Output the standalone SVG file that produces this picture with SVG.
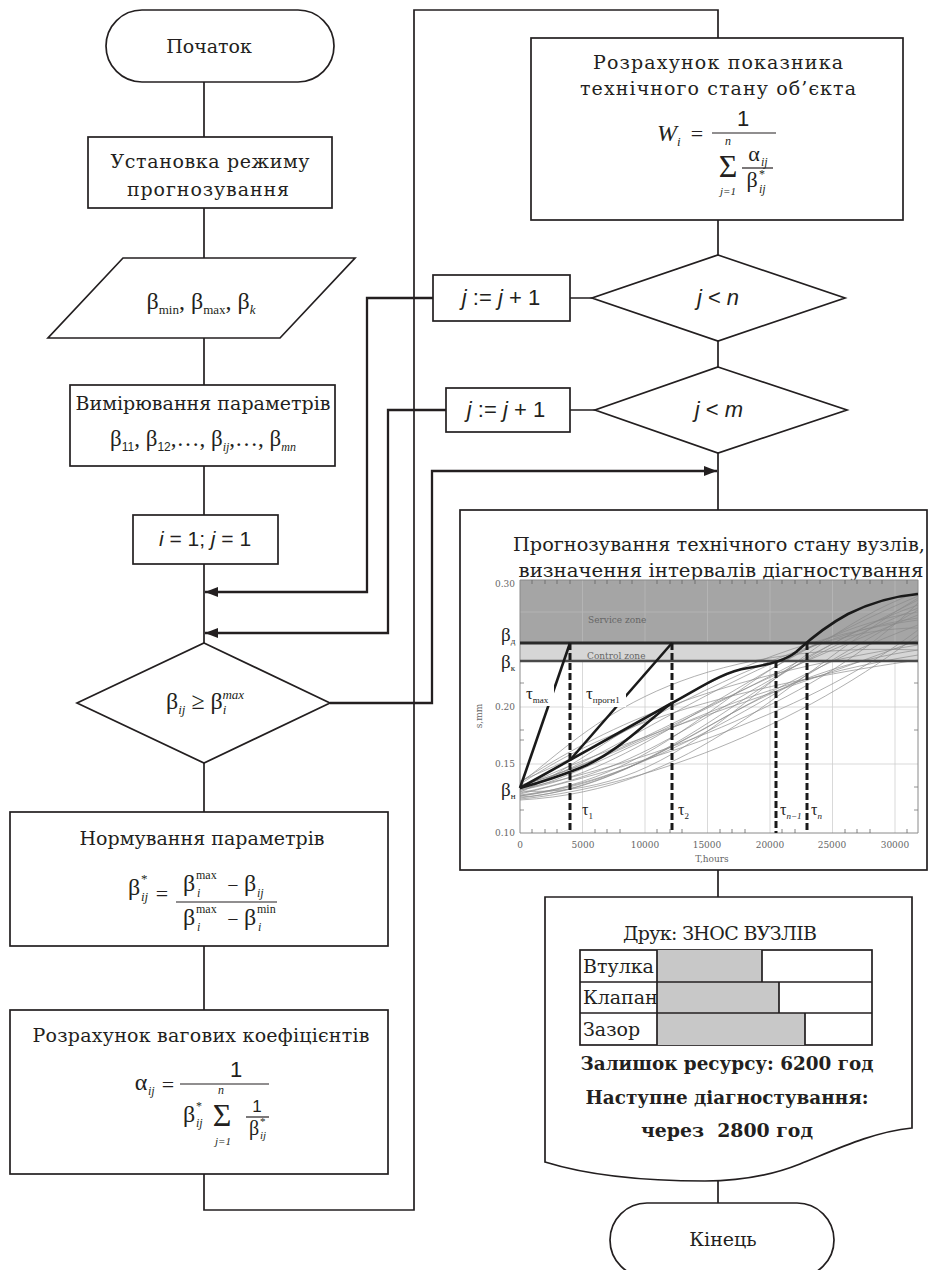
<svg xmlns="http://www.w3.org/2000/svg" width="928" height="1270" viewBox="0 0 928 1270">
<defs>
<style>
.n{fill:#fff;stroke:#231f20;stroke-width:1.7}
.c{fill:none;stroke:#231f20;stroke-width:1.7}
.a{fill:none;stroke:#231f20;stroke-width:2.3}
.f{stroke:#231f20;stroke-width:1.2}
.t{font-family:"DejaVu Serif",serif;font-size:19px;fill:#231f20;text-anchor:middle}
.m{font-family:"Liberation Serif","DejaVu Serif",serif;fill:#231f20}
.s{font-family:"Liberation Sans","DejaVu Sans",sans-serif;fill:#231f20}
.i{font-style:italic}
.mid{text-anchor:middle}
.b{font-family:"DejaVu Serif",serif;font-weight:bold;font-size:18px;fill:#231f20;text-anchor:middle}
.g{fill:none;stroke:#8a8a8a;stroke-width:0.8;opacity:0.85}
.grid{stroke:#cfcfcf;stroke-width:0.8}
.lab{font-family:"DejaVu Serif",serif;font-size:9px;fill:#666}
.k{fill:none;stroke:#1a1a1a;stroke-width:2.6}
.d{fill:none;stroke:#1a1a1a;stroke-width:3;stroke-dasharray:7 3}
.pl{font-family:"Liberation Serif","DejaVu Serif",serif;fill:#222}
</style>
<marker id="ar" markerUnits="userSpaceOnUse" markerWidth="13" markerHeight="10" refX="13" refY="5" orient="auto">
<path d="M0,0 L13,5 L0,10 Z" fill="#231f20"/>
</marker>
</defs>
<rect width="928" height="1270" fill="#fff"/>

<g id="connectors">
<path class="c" d="M204,82 V137 M204,208 V258 M204,338 V385 M204,466 V515 M204,564 V643 M204,763 V812 M204,946 V1010"/>
<path class="c" d="M204,1174 V1210 H414 V10 H718 V38"/>
<path class="c" d="M718,220 V255 M718,341 V367 M718,453 V510 M718,870 V897 M718,1181 V1203"/>
<path class="c" d="M592,298 H570 M595,410 H570"/>
<path class="a" d="M433,298 H367 V592 H205" marker-end="url(#ar)"/>
<path class="a" d="M446,410 H388 V633 H205" marker-end="url(#ar)"/>
<path class="a" d="M330,703 H432 V471 H717" marker-end="url(#ar)"/>
</g>

<g id="start">
<rect class="n" x="106" y="10" width="228" height="72" rx="36" ry="36"/>
<text class="t" x="209" y="53">Початок</text>
</g>

<g id="mode">
<rect class="n" x="88" y="137" width="244" height="71"/>
<text class="t" x="210" y="168" textLength="199">Установка режиму</text>
<text class="t" x="208" y="196" textLength="162">прогнозування</text>
</g>

<g id="input">
<polygon class="n" points="123,258 355,258 280,338 48,338"/>
<text class="m mid" x="201" y="309" font-size="24">β<tspan font-size="13" dy="5">min</tspan><tspan dy="-5">, β</tspan><tspan font-size="13" dy="5">max</tspan><tspan dy="-5">, β</tspan><tspan class="i" font-size="13" dy="5">k</tspan></text>
</g>

<g id="measure">
<rect class="n" x="70" y="385" width="265" height="81"/>
<text class="t" x="203" y="410" textLength="255">Вимірювання параметрів</text>
<text class="m mid" x="203" y="446" font-size="23">β<tspan class="s" font-size="12" dy="5">11</tspan><tspan dy="-5">, β</tspan><tspan class="s" font-size="12" dy="5">12</tspan><tspan dy="-5">,…, β</tspan><tspan class="i" font-size="12" dy="5">ij</tspan><tspan dy="-5">,…, β</tspan><tspan class="i" font-size="12" dy="5">mn</tspan></text>
</g>

<g id="init">
<rect class="n" x="133" y="515" width="145" height="49"/>
<text class="s mid" x="205" y="546" font-size="21"><tspan class="i">i</tspan> = 1; <tspan class="i">j</tspan> = 1</text>
</g>

<g id="check">
<polygon class="n" points="204,643 330,703 204,763 77,703"/>
<text class="m mid" x="205" y="709" font-size="24">β<tspan class="i" font-size="13" dy="5">ij</tspan><tspan dy="-5"> ≥ β</tspan><tspan class="i" font-size="13" dy="5">i</tspan><tspan class="i" font-size="13" dx="-4" dy="-15">max</tspan></text>
</g>

<g id="normalize">
<rect class="n" x="10" y="812" width="378" height="134"/>
<text class="t" x="202" y="845" textLength="245">Нормування параметрів</text>
<text class="m mid" x="134" y="895" font-size="24">β</text>
<text class="m" x="141" y="883" font-size="13">*</text>
<text class="m i" x="141" y="901" font-size="13">ij</text>
<text class="m mid" x="162" y="901" font-size="22">=</text>
<line class="f" x1="176" y1="902" x2="277" y2="902"/>
<text class="m mid" x="189" y="891" font-size="24">β</text>
<text class="m" x="196" y="879" font-size="12">max</text>
<text class="m i" x="197" y="897" font-size="12">i</text>
<text class="m mid" x="233" y="892" font-size="20">−</text>
<text class="m mid" x="250" y="891" font-size="24">β</text>
<text class="m i" x="257" y="897" font-size="12">ij</text>
<text class="m mid" x="189" y="925" font-size="24">β</text>
<text class="m" x="196" y="913" font-size="12">max</text>
<text class="m i" x="197" y="931" font-size="12">i</text>
<text class="m mid" x="233" y="926" font-size="20">−</text>
<text class="m mid" x="250" y="925" font-size="24">β</text>
<text class="m" x="257" y="913" font-size="12">min</text>
<text class="m i" x="258" y="931" font-size="12">i</text>
</g>

<g id="weights">
<rect class="n" x="10" y="1010" width="378" height="164"/>
<text class="t" x="201" y="1042" textLength="337">Розрахунок вагових коефіцієнтів</text>
<text class="m mid" x="141" y="1090" font-size="24">α</text>
<text class="m i" x="148" y="1095" font-size="12">ij</text>
<text class="m mid" x="168" y="1092" font-size="22">=</text>
<line class="f" x1="180" y1="1084" x2="269" y2="1084"/>
<text class="s mid" x="236" y="1077" font-size="22">1</text>
<text class="m mid" x="189" y="1122" font-size="24">β</text>
<text class="m" x="196" y="1110" font-size="12">*</text>
<text class="m i" x="196" y="1127" font-size="12">ij</text>
<text class="m i mid" x="221" y="1094" font-size="12">n</text>
<text class="m mid" x="222" y="1126" font-size="32">Σ</text>
<text class="m i mid" x="223" y="1145" font-size="11">j=1</text>
<text class="s mid" x="257" y="1112" font-size="17">1</text>
<line class="f" x1="246" y1="1117" x2="269" y2="1117"/>
<text class="m mid" x="254" y="1135" font-size="20">β</text>
<text class="m" x="260" y="1125" font-size="11">*</text>
<text class="m i" x="260" y="1139" font-size="11">ij</text>
</g>

<g id="index">
<rect class="n" x="531" y="38" width="372" height="182"/>
<text class="t" x="718" y="69" textLength="250">Розрахунок показника</text>
<text class="t" x="718" y="95" textLength="276">технічного стану об’єкта</text>
<text class="m i mid" x="667" y="141" font-size="24">W</text>
<text class="m i" x="677" y="146" font-size="13">i</text>
<text class="m mid" x="697" y="141" font-size="22">=</text>
<line class="f" x1="712" y1="133" x2="776" y2="133"/>
<text class="s mid" x="743" y="126" font-size="22">1</text>
<text class="m i mid" x="728" y="145" font-size="12">n</text>
<text class="m mid" x="728" y="177" font-size="32">Σ</text>
<text class="m i mid" x="728" y="195" font-size="11">j=1</text>
<text class="m mid" x="754" y="161" font-size="22">α</text>
<text class="m i" x="761" y="166" font-size="12">ij</text>
<line class="f" x1="742" y1="168" x2="773" y2="168"/>
<text class="m mid" x="752" y="187" font-size="22">β</text>
<text class="m" x="759" y="178" font-size="12">*</text>
<text class="m i" x="759" y="193" font-size="12">ij</text>
</g>

<g id="cond-n">
<polygon class="n" points="718,255 845,298 718,341 592,298"/>
<text class="s mid" x="718" y="305" font-size="22"><tspan class="i">j</tspan> &lt; <tspan class="i">n</tspan></text>
</g>

<g id="inc-n">
<rect class="n" x="433" y="275" width="137" height="46"/>
<text class="s mid" x="501" y="305" font-size="22"><tspan class="i">j</tspan> := <tspan class="i">j</tspan> + 1</text>
</g>

<g id="cond-m">
<polygon class="n" points="718,367 847,410 718,453 595,410"/>
<text class="s mid" x="719" y="417" font-size="22"><tspan class="i">j</tspan> &lt; <tspan class="i">m</tspan></text>
</g>

<g id="inc-m">
<rect class="n" x="446" y="388" width="124" height="44"/>
<text class="s mid" x="506" y="417" font-size="22"><tspan class="i">j</tspan> := <tspan class="i">j</tspan> + 1</text>
</g>

<g id="forecast">
<rect class="n" x="460" y="510" width="467" height="360"/>
<text class="t" x="719" y="551" textLength="412" lengthAdjust="spacingAndGlyphs">Прогнозування технічного стану вузлів,</text>
<text class="t" x="721" y="577" textLength="405" lengthAdjust="spacingAndGlyphs">визначення інтервалів діагностування</text>
<rect x="520" y="580" width="398" height="63" fill="#a5a5a5"/>
<rect x="520" y="643" width="398" height="18" fill="#d6d6d6"/>
<path d="M582.5,580 V643 M645,580 V643 M707.5,580 V643 M770,580 V643 M832.5,580 V643 M895,580 V643 M520,612 H918" stroke="#b8b8b8" stroke-width="0.8"/>
<path class="grid" d="M582.5,661 V833 M645,661 V833 M707.5,661 V833 M770,661 V833 M832.5,661 V833 M895,661 V833 M520,707 H918 M520,764 H918"/>
<path d="M520,580 H918 V833 M520,580 V833 H918" fill="none" stroke="#8a8a8a" stroke-width="1"/>
<path d="M520,683 H524 M520,730 H524 M520,740 H524 M520,787 H524 M520,810 H524 M914,683 H918 M914,730 H918 M914,787 H918 M914,810 H918" stroke="#777" stroke-width="0.8"/>
<path d="M532,580 V584 M545,580 V584 M557,580 V584 M570,580 V584 M595,580 V584 M607,580 V584 M620,580 V584 M632,580 V584 M657,580 V584 M670,580 V584 M682,580 V584 M695,580 V584 M720,580 V584 M732,580 V584 M745,580 V584 M757,580 V584 M782,580 V584 M795,580 V584 M807,580 V584 M820,580 V584 M845,580 V584 M857,580 V584 M870,580 V584 M882,580 V584 M907,580 V584 M532,829 V833 M545,829 V833 M557,829 V833 M595,829 V833 M607,829 V833 M620,829 V833 M657,829 V833 M670,829 V833 M682,829 V833 M720,829 V833 M732,829 V833 M745,829 V833 M782,829 V833 M795,829 V833 M845,829 V833 M857,829 V833 M870,829 V833 M907,829 V833" stroke="#666" stroke-width="0.8"/>
<g>
<path class="g" d="M520,785 C620,760 740,690 918,600"/>
<path class="g" d="M520,790 C640,770 720,680 918,596"/>
<path class="g" d="M520,795 C650,780 760,700 918,610"/>
<path class="g" d="M520,792 C600,760 700,650 918,620"/>
<path class="g" d="M520,788 C620,740 760,700 918,640"/>
<path class="g" d="M520,798 C680,780 760,660 918,605"/>
<path class="g" d="M520,783 C580,740 660,640 918,650"/>
<path class="g" d="M520,800 C700,790 780,680 918,598"/>
<path class="g" d="M520,786 C640,750 700,700 918,615"/>
<path class="g" d="M520,794 C620,770 800,720 918,630"/>
<path class="g" d="M520,790 C600,775 700,690 918,655"/>
<path class="g" d="M520,796 C700,770 740,640 918,612"/>
<path class="g" d="M520,782 C600,730 700,680 918,645"/>
<path class="g" d="M520,789 C660,760 820,700 918,603"/>
<path class="g" d="M520,797 C640,790 720,700 918,625"/>
<path class="g" d="M520,784 C560,760 640,700 918,660"/>
<path class="g" d="M520,791 C700,800 760,650 918,592"/>
<path class="g" d="M520,799 C620,790 780,740 918,635"/>
<path class="g" d="M520,787 C600,770 760,640 918,618"/>
<path class="g" d="M520,793 C680,760 700,700 918,608"/>
<path class="g" d="M520,781 C610,745 690,690 800,650 C850,633 890,628 918,628"/>
<path class="g" d="M520,796 C600,786 650,760 720,720 C790,680 850,660 918,650"/>
</g>
<line x1="520" y1="643" x2="918" y2="643" stroke="#2a2a2a" stroke-width="3"/>
<line x1="520" y1="661" x2="918" y2="661" stroke="#4a4a4a" stroke-width="2.4"/>
<path class="k" d="M520,788 L570,643"/>
<path class="k" d="M520,788 L672,703"/>
<path class="k" d="M570,760 L672,643"/>
<path class="k" d="M520,788 C550,780 565,774 580,768 C620,752 650,718 672,703"/>
<path class="k" d="M672,703 C700,688 722,672 748,668 C772,664 786,660 796,652 C806,643 822,628 848,614 C872,602 895,596 918,594"/>
<path class="d" d="M570,643 V833 M672,643 V833 M776,661 V833 M807,643 V833"/>
<text class="lab" x="588" y="623" font-size="8.5" fill="#444">Service zone</text>
<text class="lab" x="587" y="659" font-size="8.5" fill="#444">Control zone</text>
<text class="lab" x="515" y="587" text-anchor="end">0.30</text>
<text class="lab" x="515" y="710" text-anchor="end">0.20</text>
<text class="lab" x="515" y="767" text-anchor="end">0.15</text>
<text class="lab" x="515" y="836" text-anchor="end">0.10</text>
<text class="lab" x="482" y="716" text-anchor="middle" transform="rotate(-90 482 716)">s,mm</text>
<text class="lab" x="520" y="848" text-anchor="middle">0</text>
<text class="lab" x="583" y="848" text-anchor="middle">5000</text>
<text class="lab" x="645" y="848" text-anchor="middle">10000</text>
<text class="lab" x="707" y="848" text-anchor="middle">15000</text>
<text class="lab" x="770" y="848" text-anchor="middle">20000</text>
<text class="lab" x="832" y="848" text-anchor="middle">25000</text>
<text class="lab" x="895" y="848" text-anchor="middle">30000</text>
<text class="lab" x="712" y="862" text-anchor="middle">T,hours</text>
<text class="pl" x="501" y="641" font-size="19">β<tspan font-size="9" dy="3">д</tspan></text>
<text class="pl" x="501" y="668" font-size="19">β<tspan font-size="9" dy="3">к</tspan></text>
<text class="pl" x="501" y="796" font-size="19">β<tspan font-size="9" dy="3">н</tspan></text>
<rect x="524" y="684" width="30" height="22" fill="#fff"/>
<text class="pl" x="526" y="699" font-size="17">τ<tspan font-size="9" dy="4">max</tspan></text>
<rect x="584" y="684" width="42" height="23" fill="#fff"/>
<text class="pl" x="586" y="699" font-size="17">τ<tspan font-size="9" dy="4">прогн1</tspan></text>
<text class="pl" x="582" y="815" font-size="16">τ<tspan font-size="9" dy="4">1</tspan></text>
<text class="pl" x="678" y="815" font-size="16">τ<tspan font-size="9" dy="4">2</tspan></text>
<text class="pl" x="780" y="815" font-size="16">τ<tspan class="i" font-size="9" dy="4">n−1</tspan></text>
<text class="pl" x="811" y="815" font-size="16">τ<tspan class="i" font-size="9" dy="4">n</tspan></text>
</g>

<g id="print">
<path class="n" d="M545,897 H912 V1128 C872,1132 835,1150 800,1164 C770,1176 740,1181 705,1181 C650,1181 590,1176 545,1162 Z"/>
<text class="t" x="720" y="940" textLength="194">Друк: ЗНОС ВУЗЛІВ</text>
<rect x="580" y="950" width="292" height="95" fill="#fff" stroke="#231f20" stroke-width="1.7"/>
<rect x="657" y="950" width="105" height="32" fill="#c8c8c8"/>
<rect x="657" y="982" width="122" height="31" fill="#c8c8c8"/>
<rect x="657" y="1013" width="148" height="32" fill="#c8c8c8"/>
<path class="c" d="M580,982 H872 M580,1013 H872 M657,950 V1045 M762,950 V982 M779,982 V1013 M805,1013 V1045"/>
<text class="t" x="583" y="973" font-size="18" style="text-anchor:start">Втулка</text>
<text class="t" x="583" y="1004" font-size="18" style="text-anchor:start">Клапан</text>
<text class="t" x="583" y="1036" font-size="18" style="text-anchor:start">Зазор</text>
<text class="b" x="727" y="1070" textLength="293" lengthAdjust="spacingAndGlyphs">Залишок ресурсу: 6200 год</text>
<text class="b" x="727" y="1104" textLength="283" lengthAdjust="spacingAndGlyphs">Наступне діагностування:</text>
<text class="b" x="727" y="1137" textLength="172" lengthAdjust="spacingAndGlyphs" xml:space="preserve">через  2800 год</text>
</g>

<g id="end">
<rect class="n" x="610" y="1203" width="224" height="74" rx="37" ry="37"/>
<text class="t" x="723" y="1246">Кінець</text>
</g>
</svg>
